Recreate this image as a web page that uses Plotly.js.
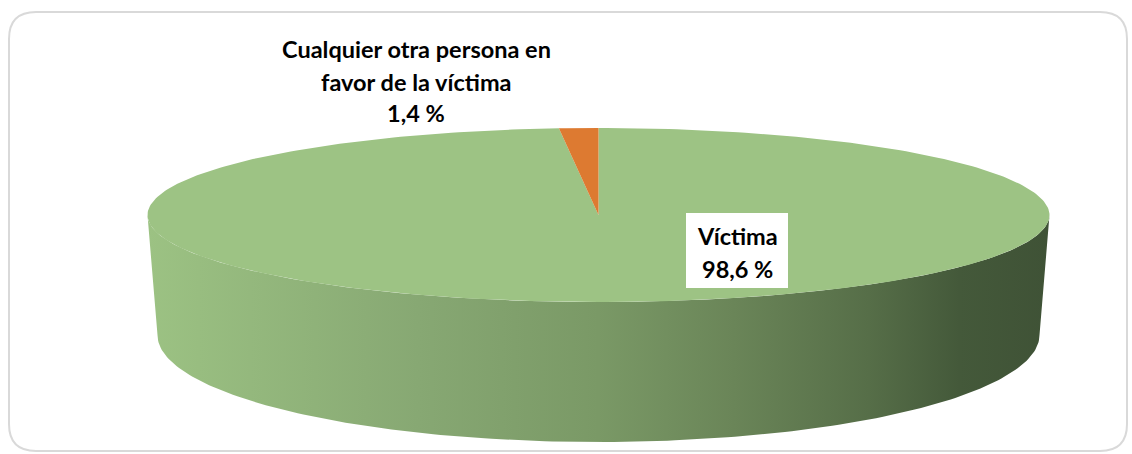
<!DOCTYPE html>
<html>
<head>
<meta charset="utf-8">
<script src="https://cdn.plot.ly/plotly-3.0.1.min.js"></script>
<style>html,body{margin:0;padding:0;background:#fff;}#chart{width:1132px;height:454px;}</style>
</head>
<body>
<div id="chart"></div>
<script>
// ---- data ----
const categories = ['Víctima', 'Cualquier otra persona en<br>favor de la víctima'];
const values = [98.6, 1.4];
const sliceColors = ['#9dc384', '#dd7a31'];

// ---- geometry (style) ----
const W = 1132, H = 454;
const topEl = {cx: 598.5, cy: 215, rx: 451, ry: 87};
const botEl = {cx: 598.5, cy: 335, rx: 441, ry: 107};
function pt(e, deg) { // clockwise from 12 o'clock
  const t = deg * Math.PI / 180;
  return [e.cx + e.rx * Math.sin(t), e.cy - e.ry * Math.cos(t)];
}
function arc(e, a0, a1) {
  const n = Math.max(4, Math.ceil(Math.abs(a1 - a0) / 1));
  const xs = [], ys = [];
  for (let i = 0; i <= n; i++) {
    const p = pt(e, a0 + (a1 - a0) * i / n);
    xs.push(p[0]); ys.push(p[1]);
  }
  return [xs, ys];
}
const total = values.reduce((a, b) => a + b, 0);
const traces = [];

// side band (front half, 90° -> 270°)
{
  const [x1, y1] = arc(topEl, 90, 270);
  const [x2, y2] = arc(botEl, 270, 90);
  traces.push({
    type: 'scatter', mode: 'lines', x: x1.concat(x2), y: y1.concat(y2),
    fill: 'toself', line: {width: 0, color: 'rgba(0,0,0,0)'},
    fillgradient: {type: 'horizontal', colorscale: [
      [0, '#9cc283'], [0.3, '#87a873'], [0.5, '#7a9966'], [0.65, '#6a8558'],
      [0.8, '#566e48'], [0.9, '#44593a'], [1, '#3f5236']]},
    hoverinfo: 'skip', showlegend: false
  });
}
// top slices
let acc = 0;
values.forEach((v, i) => {
  const a0 = acc / total * 360, a1 = (acc + v) / total * 360;
  acc += v;
  const [xs, ys] = arc(topEl, a0, a1);
  traces.push({
    type: 'scatter', mode: 'lines',
    x: [topEl.cx].concat(xs, [topEl.cx]), y: [topEl.cy].concat(ys, [topEl.cy]),
    fill: 'toself', fillcolor: sliceColors[i], line: {width: 0, color: sliceColors[i]},
    name: categories[i].replace('<br>', ' '), hoverinfo: 'name', showlegend: false
  });
});

const pct = v => v.toFixed(1).replace('.', ',') + ' %';
const font = {family: 'Lato, "Open Sans", sans-serif', size: 23.5, color: '#000', weight: 700};
const annotations = [];
// label for small slice
const lines1 = categories[1].split('<br>').concat([pct(values[1])]);
const ys1 = [49, 82, 113];
lines1.forEach((t, k) => annotations.push({x: 416, y: ys1[k], text: '<b>' + t + '</b>', showarrow: false, font: font, xanchor: 'center', yanchor: 'middle'}));
// label for big slice
const lines0 = [categories[0], pct(values[0])];
const ys0 = [236, 269];
lines0.forEach((t, k) => annotations.push({x: 737, y: ys0[k], text: '<b>' + t + '</b>', showarrow: false, font: font, xanchor: 'center', yanchor: 'middle'}));

const shapes = [
  {type: 'path', xref: 'x', yref: 'y', layer: 'below',
   path: 'M 36,12 L 1100,12 Q 1127,12 1127,39 L 1127,424 Q 1127,451 1100,451 L 36,451 Q 9,451 9,424 L 9,39 Q 9,12 36,12 Z',
   line: {color: '#d9d9d9', width: 2}, fillcolor: 'rgba(0,0,0,0)'},
  {type: 'rect', xref: 'x', yref: 'y', layer: 'above', x0: 686, x1: 788, y0: 213, y1: 288,
   fillcolor: '#ffffff', line: {width: 0}}
];

const layout = {
  width: W, height: H, margin: {l: 0, r: 0, t: 0, b: 0},
  paper_bgcolor: '#fff', plot_bgcolor: '#fff',
  xaxis: {range: [0, W], visible: false, fixedrange: true},
  yaxis: {range: [H, 0], visible: false, fixedrange: true},
  shapes: shapes, annotations: annotations, showlegend: false
};
Plotly.newPlot('chart', traces, layout, {displayModeBar: false, staticPlot: true});
</script>
</body>
</html>
